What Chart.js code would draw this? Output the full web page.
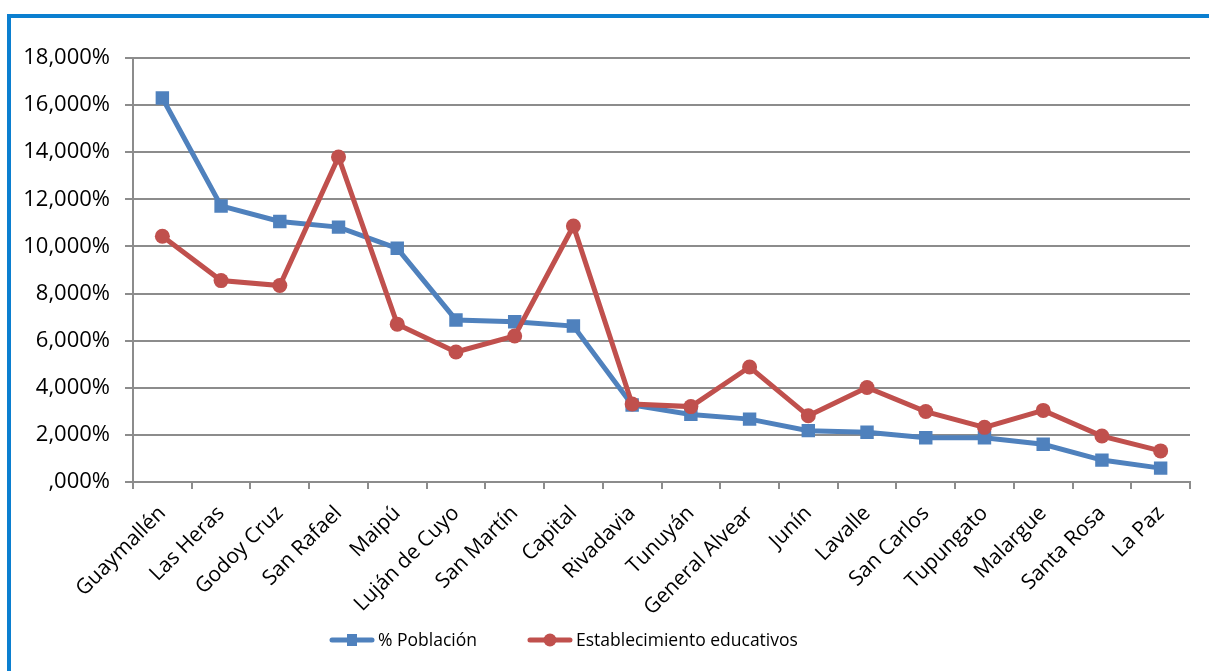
<!DOCTYPE html>
<html>
<head>
<meta charset="utf-8">
<script src="https://cdn.jsdelivr.net/npm/chart.js@4.4.1/dist/chart.umd.min.js"></script>
<style>
  html, body { margin: 0; padding: 0; background: #fff; overflow: hidden; }
  #wrap { position: relative; width: 1209px; height: 671px; }
  #marco {
    position: absolute; left: 7px; top: 14px; right: -10px; bottom: -10px;
    border: 4px solid #0b7fd0; pointer-events: none;
  }
  canvas { position: absolute; left: 0; top: 0; }
</style>
</head>
<body>
<div id="wrap">
  <canvas id="grafico" width="1209" height="671"></canvas>
  <div id="marco"></div>
</div>
<script>
const municipios = ['Guaymallén', 'Las Heras', 'Godoy Cruz', 'San Rafael', 'Maipú', 'Luján de Cuyo',
  'San Martín', 'Capital', 'Rivadavia', 'Tunuyán', 'General Alvear', 'Junín', 'Lavalle',
  'San Carlos', 'Tupungato', 'Malargue', 'Santa Rosa', 'La Paz'];

const poblacion = [16.30, 11.72, 11.06, 10.82, 9.92, 6.88, 6.80, 6.62, 3.27, 2.87, 2.67, 2.18,
  2.11, 1.88, 1.88, 1.60, 0.93, 0.59];

const establecimientos = [10.43, 8.55, 8.34, 13.80, 6.70, 5.52, 6.20, 10.87, 3.31, 3.20, 4.88,
  2.81, 4.01, 2.99, 2.32, 3.04, 1.95, 1.32];

const colorPob = '#4f81bd';
const colorEst = '#c0504d';
const gris = '#8c8c8c';
const fuente = 'Open Sans';

// Excel style percent: 2,000% ... and ,000% for zero
function formatoPct(v) {
  let s = v.toFixed(3).replace('.', ',');
  if (v === 0) s = s.slice(1);
  return s + '%';
}

// legend under the axis labels: line sample with marker, then the series name
const leyenda = {
  id: 'leyenda',
  afterDraw(chart) {
    const ctx = chart.ctx;
    const y = 640;
    let x = 330;
    ctx.save();
    ctx.font = '17.5px "' + fuente + '"';
    ctx.textBaseline = 'middle';
    ctx.textAlign = 'left';
    chart.data.datasets.forEach(ds => {
      ctx.strokeStyle = ds.borderColor;
      ctx.fillStyle = ds.borderColor;
      ctx.lineWidth = 5;
      ctx.lineCap = 'round';
      ctx.beginPath();
      ctx.moveTo(x + 2, y);
      ctx.lineTo(x + 42, y);
      ctx.stroke();
      const cx = x + 22;
      if (ds.pointStyle === 'rect') {
        ctx.fillRect(cx - 5, y - 6, 10, 12);
      } else {
        ctx.beginPath();
        ctx.arc(cx, y, 6.5, 0, Math.PI * 2);
        ctx.fill();
      }
      ctx.fillStyle = '#000';
      ctx.fillText(ds.label, x + 48, y + 1);
      x += 48 + ctx.measureText(ds.label).width + 51;
    });
    ctx.restore();
  }
};

const ctx = document.getElementById('grafico').getContext('2d');

new Chart(ctx, {
  type: 'line',
  data: {
    labels: municipios,
    datasets: [{
      label: '% Población',
      data: poblacion,
      borderColor: colorPob,
      backgroundColor: colorPob,
      borderWidth: 5,
      tension: 0,
      pointStyle: 'rect',
      pointRadius: 9.5,
      pointBorderWidth: 0,
      order: 1
    }, {
      label: 'Establecimiento educativos',
      data: establecimientos,
      borderColor: colorEst,
      backgroundColor: colorEst,
      borderWidth: 5,
      tension: 0,
      pointStyle: 'circle',
      pointRadius: 7.5,
      pointBorderWidth: 0,
      order: 0
    }]
  },
  options: {
    responsive: false,
    animation: false,
    layout: { padding: { left: 0, top: 58, right: 19, bottom: 0 } },
    plugins: {
      tooltip: { enabled: false },
      legend: { display: false }
    },
    scales: {
      x: {
        offset: true,
        afterFit: s => { s.height = 189; },
        grid: {
          offset: true,
          drawOnChartArea: false,
          drawTicks: true,
          tickLength: 7,
          color: gris,
          lineWidth: 2
        },
        border: { color: gris, width: 2 },
        ticks: {
          autoSkip: false,
          maxRotation: 45,
          minRotation: 45,
          padding: 12,
          color: '#000',
          font: { family: fuente, size: 21 }
        }
      },
      y: {
        min: 0,
        max: 18,
        afterFit: s => { s.width = 133; },
        grid: {
          color: gris,
          lineWidth: 2,
          tickLength: 8
        },
        border: { color: gris, width: 2 },
        ticks: {
          stepSize: 2,
          padding: 15,
          color: '#000',
          font: { family: fuente, size: 22 },
          callback: v => formatoPct(v)
        }
      }
    }
  },
  plugins: [leyenda]
});
</script>
</body>
</html>
